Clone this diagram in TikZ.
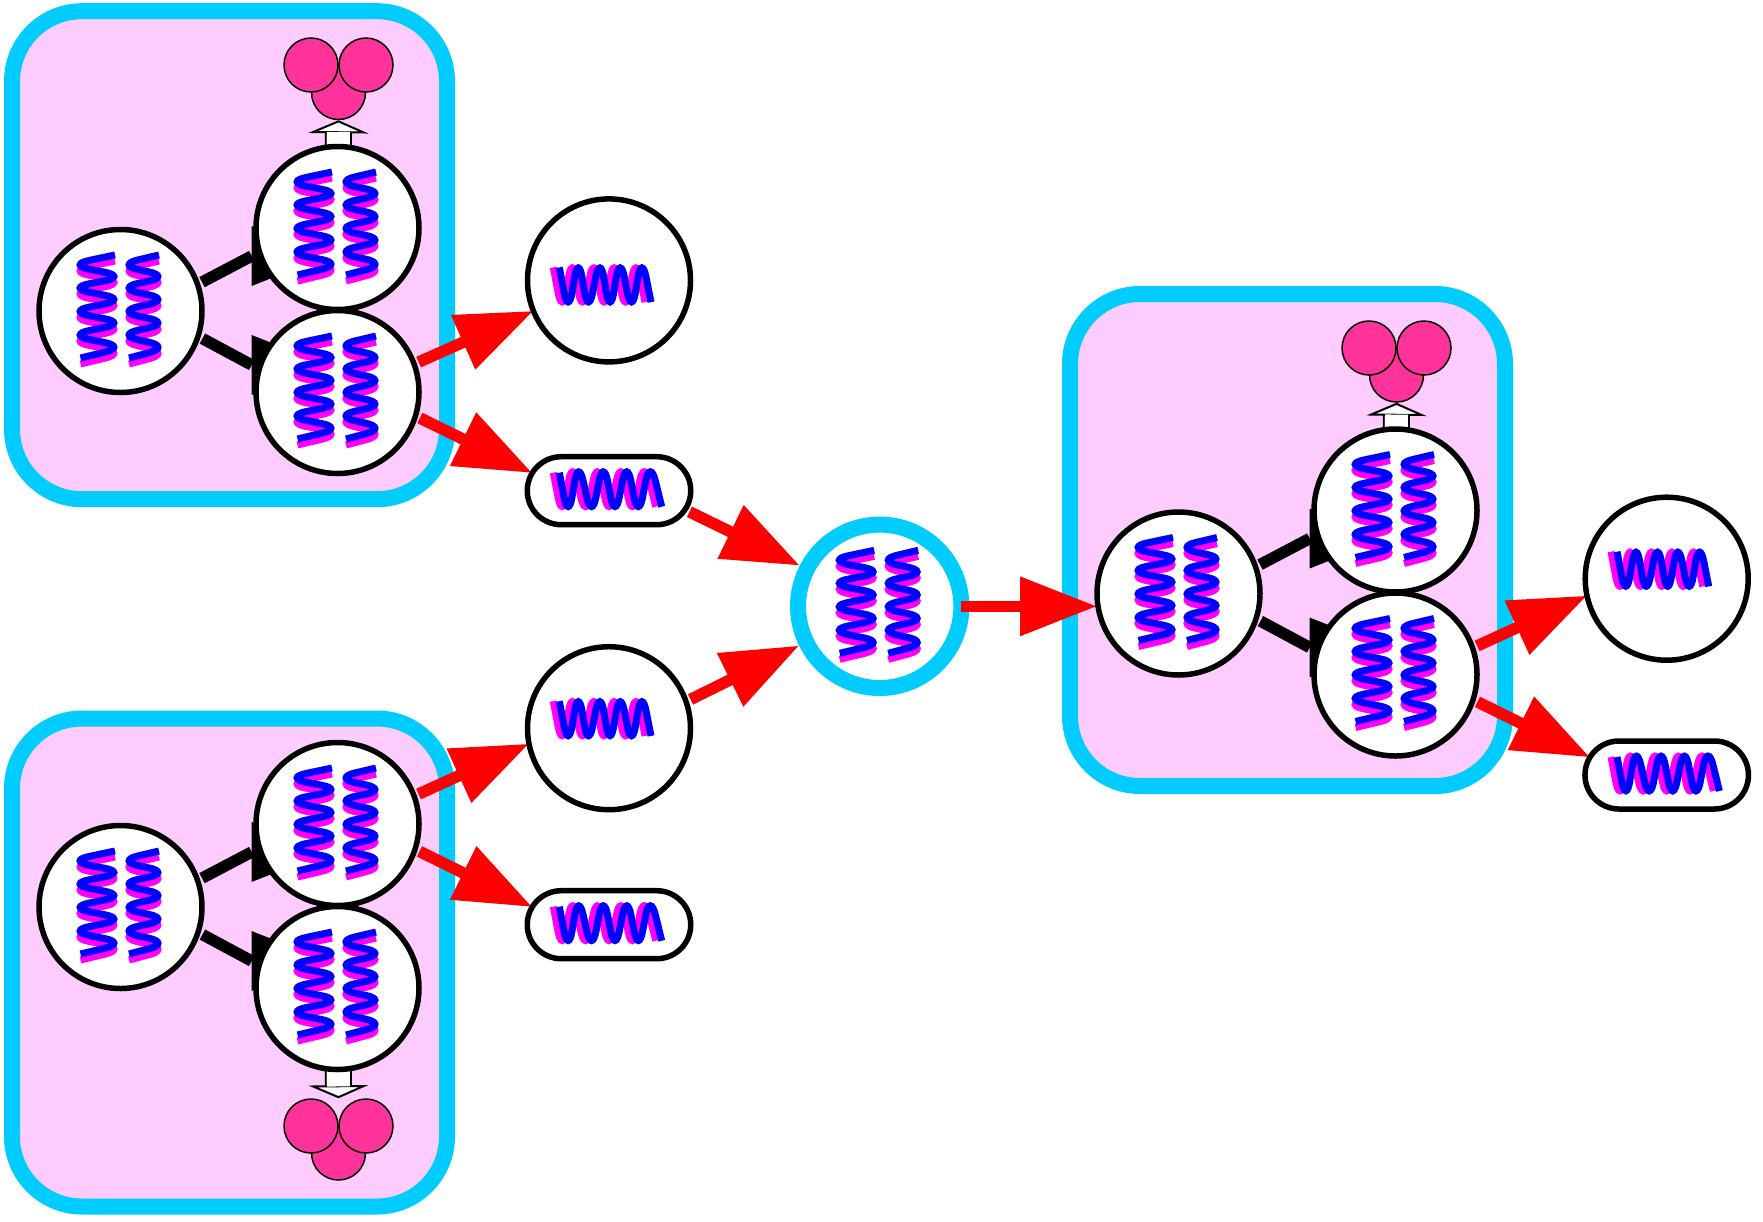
\documentclass[tikz,border=0pt]{standalone}
\usetikzlibrary{arrows.meta,shapes.misc,calc}
\definecolor{ringcol}{HTML}{00CCFF}
\definecolor{boxfill}{HTML}{FFCCFF}
\definecolor{trimer}{HTML}{FF3399}
\definecolor{hblue}{HTML}{0000FF}
\definecolor{hmag}{HTML}{FF00FF}
\definecolor{hred}{HTML}{FF0000}
\pgfdeclarelayer{bg}\pgfdeclarelayer{ring}\pgfdeclarelayer{edges}
\pgfsetlayers{bg,ring,edges,main}
\tikzset{
  x=1pt,y=-1pt,
  boxnode/.style={draw=ringcol,fill=boxfill,line width=16pt,rounded corners=70pt,minimum width=435pt,minimum height=488pt,inner sep=0pt,outer sep=0pt},
  cnode/.style={circle,draw=black,fill=white,line width=5.5pt,minimum size=163pt,inner sep=0pt,outer sep=0pt},
  pnode/.style={rounded rectangle,draw=black,fill=white,line width=5.5pt,minimum width=163.5pt,minimum height=68pt,inner sep=0pt,outer sep=0pt},
  dnode/.style={circle,draw=ringcol,fill=white,line width=16pt,minimum size=163.4pt,inner sep=0pt,outer sep=8pt},
  tnode/.style={circle,draw=black,fill=trimer,line width=1.5pt,minimum size=54pt,inner sep=0pt,outer sep=.75pt},
  hb/.style={draw=hblue,line width=7pt,rounded corners=22pt},
  hm/.style={draw=hmag,line width=7pt,rounded corners=22pt},
  rededge/.style={draw=hred,fill=hred,line width=11.5pt,shorten <=5pt,-{Triangle[length=77pt,width=56.5pt]}},
  blackshaft/.style={draw=black,line width=11.5pt,shorten <=5pt},
  blackhead/.style={draw=black,line width=11.5pt,-{Triangle[length=77pt,width=56.5pt]}},
  whiteedge/.style={draw=black,double=white,line width=2pt,double distance=23pt,-{Triangle[length=13pt,width=60pt,fill=white,line width=2pt]}},
  whitegap/.style={draw=white,line width=23pt},
}
\newcommand{\hxVl}{(-5.5,-56) -- (-53,-46) -- (6,-34.5) -- (-53,-23) -- (6,-11.5) -- (-53,0.5) -- (6,12) -- (-53,24) -- (6,36) -- (-40,47)}
\newcommand{\hxVr}{(38.5,-56) -- (-4,-46) -- (50,-34.5) -- (-4,-23) -- (50,-11.5) -- (-4,0.5) -- (50,12) -- (-4,24) -- (50,36) -- (8.5,47)}
\newcommand{\hxCp}{(-49.7,-13) -- (-40.7,34.2) -- (-30.7,-25.2) -- (-20.7,34.2) -- (-9,-25.2) -- (1,34.2) -- (11,-25.2) -- (22.7,34.2) -- (32.7,-25.2) -- (42,21.7)}
\newcommand{\hxPp}{(-49.7,-18) -- (-40.7,28.5) -- (-30.7,-31.5) -- (-17.3,28.5) -- (-5.7,-31.5) -- (6,28.5) -- (17.7,-31.5) -- (29.3,28.5) -- (41,-31.5) -- (52.7,16)}
\newcommand{\hxV}[1]{\begin{scope}[shift={(#1.center)}]
  \draw[hm,shift={(0,6)}] \hxVl; \draw[hm,shift={(0,6)}] \hxVr;
  \draw[hb] \hxVl; \draw[hb] \hxVr;
\end{scope}}
\newcommand{\hxC}[2]{\begin{scope}[shift={(#1.center)},shift={(0,#2)}]
  \draw[hm,shift={(-6,0)}] \hxCp; \draw[hb] \hxCp;
\end{scope}}
\newcommand{\hxP}[1]{\begin{scope}[shift={(#1.center)}]
  \draw[hm,shift={(-6,0)}] \hxPp; \draw[hb] \hxPp;
\end{scope}}
\newcommand{\kedge}[4]{% from, to, start angle, dy of the head
  \draw[blackshaft] (#1.#3) -- ([shift={(-85.8,#4)}]#2.center);
  \draw[blackhead] ([shift={(-85.8,#4)}]#2.center) -- ([shift={(-8.8,#4)}]#2.center);}
\begin{document}
\begin{tikzpicture}
\useasboundingbox (0,0) rectangle (1763,1221);
% clusters
\begin{pgfonlayer}{bg}
\node[boxnode] (box1) at (229.5,255.2) {};
\node[boxnode] (box2) at (229.5,962.5) {};
\node[boxnode,minimum height=492pt] (box3) at (1287.5,540) {};
\end{pgfonlayer}
% group 1
\node[cnode] (A1) at (120.5,311) {}; \hxV{A1}
\node[cnode] (B1) at (337.5,228) {}; \hxV{B1}
\node[cnode] (C1) at (337.5,392) {}; \hxV{C1}
\node[tnode] (T1b) at (338.5,92.5) {};
\node[tnode] (T1l) at (311,65) {};
\node[tnode] (T1r) at (366,65) {};
% group 2
\node[cnode] (A2) at (120.5,907) {}; \hxV{A2}
\node[cnode] (B2) at (337.5,824) {}; \hxV{B2}
\node[cnode] (C2) at (337.5,988) {}; \hxV{C2}
\node[tnode] (T2b) at (338.5,1153) {};
\node[tnode] (T2l) at (311,1126) {};
\node[tnode] (T2r) at (366,1126) {};
% group 3
\node[cnode] (A3) at (1178.5,593.5) {}; \hxV{A3}
\node[cnode] (B3) at (1395.5,510.5) {}; \hxV{B3}
\node[cnode] (C3) at (1395.5,674.5) {}; \hxV{C3}
\node[tnode] (T3b) at (1396.5,375) {};
\node[tnode] (T3l) at (1369,348) {};
\node[tnode] (T3r) at (1424,348) {};
% outputs
\node[cnode] (P1) at (609,280.4) {}; \hxC{P1}{0}
\node[pnode] (Q1) at (609,490.7) {}; \hxP{Q1}
\node[cnode] (P2) at (609,728.2) {}; \hxC{P2}{-14}
\node[pnode] (Q2) at (609,924.7) {}; \hxP{Q2}
\node[cnode] (P3) at (1666.7,578.7) {}; \hxC{P3}{-14}
\node[pnode] (Q3) at (1666.7,775) {}; \hxP{Q3}
% central node
\begin{pgfonlayer}{ring}
\node[dnode] (D) at (879.7,606.3) {}; \hxV{D}
\end{pgfonlayer}
% connectors
\begin{pgfonlayer}{edges}
\kedge{A1}{B1}{19}{28}
\kedge{A1}{C1}{-18.5}{-27}
\kedge{A2}{B2}{19}{28}
\kedge{A2}{C2}{-18.5}{-27}
\kedge{A3}{B3}{19}{28}
\kedge{A3}{C3}{-18.5}{-27}
\draw[whiteedge] (B1.center) -- (T1b.south);
\draw[whitegap] (B1.center) -- ([shift={(0,11.8)}]T1b.south);
\draw[whiteedge] (C2.center) -- (T2l.north -| T2b.north);
\draw[whitegap] (C2.center) -- ([shift={(0,-11.8)}]T2l.north -| T2b.north);
\draw[whiteedge] (B3.center) -- (T3b.south);
\draw[whitegap] (B3.center) -- ([shift={(0,11.8)}]T3b.south);
\draw[rededge] (C1.20) -- (P1.202);
\draw[rededge] (C1.-17) -- (Q1.167);
\draw[rededge] (B2.20) -- (P2.191.5);
\draw[rededge] (B2.-18.3) -- (Q2.167);
\draw[rededge] (C3.19) -- (P3.192.4);
\draw[rededge] (C3.-18.5) -- (Q3.167);
\draw[rededge] (Q1.-14.3) -- (D.153.3);
\draw[rededge] (P2.19.2) -- (D.206.2);
\coordinate (A3in) at (A3.west |- D.center);
\draw[rededge,shorten <=0pt] ([xshift=-8pt]D.east) -- (A3in);
\end{pgfonlayer}
\end{tikzpicture}
\end{document}
